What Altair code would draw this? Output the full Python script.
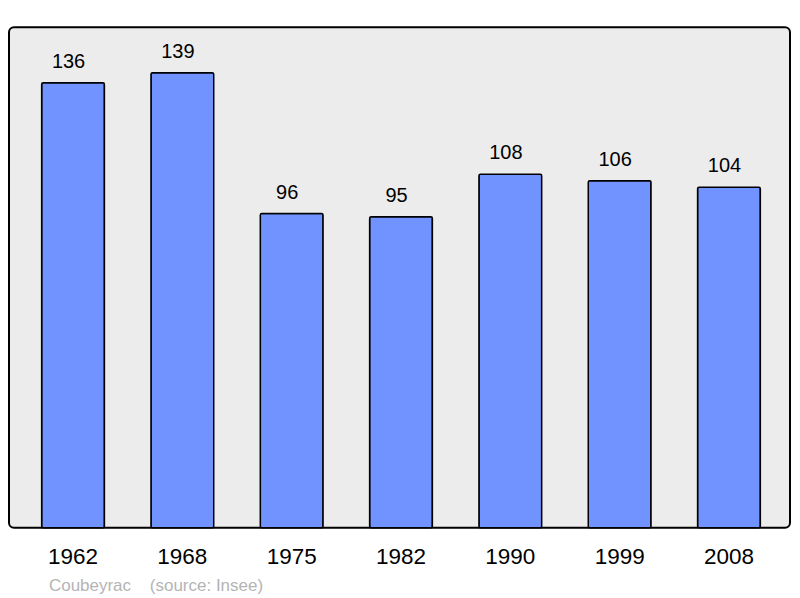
import altair as alt
import pandas as pd

years = ["1962", "1968", "1975", "1982", "1990", "1999", "2008"]
population = [136, 139, 96, 95, 108, 106, 104]
footer = ["Coubeyrac\u00a0\u00a0\u00a0\u00a0(source: Insee)"]

df = pd.DataFrame({"year": years, "pop": population})
FONT = "Liberation Sans"

x = alt.X("year:N", sort=years, title=None,
          scale=alt.Scale(paddingInner=0.426, paddingOuter=0.286, range=[1.4, 783.6]),
          axis=alt.Axis(labelAngle=0, labelFontSize=22.5, labelFont=FONT,
                        labelColor="black", ticks=False, tickSize=0, domain=False,
                        labelBaseline="alphabetic", labelPadding=35.5, grid=False))
y = alt.Y("pop:Q", title=None, scale=alt.Scale(domain=[0, 152.9], nice=False, zero=True),
          axis=None)

bars = alt.Chart(df).mark_bar(color="#7093ff", stroke="black", strokeWidth=1.5,
                              cornerRadius=1.5).encode(x=x, y=y)
labels = alt.Chart(df).mark_text(font=FONT, fontSize=20, color="black", dx=-4.5, dy=-15,
                                 baseline="alphabetic", align="center").encode(
    x=alt.X("year:N", sort=years), y="pop:Q", text="pop:Q")
foot = alt.Chart(pd.DataFrame({"t": footer})).mark_text(
    font=FONT, fontSize=17, color="#b4b4b4", align="left", baseline="alphabetic").encode(
    x=alt.value(40), y=alt.value(564), text="t:N")

chart = alt.layer(bars, labels, foot).properties(
    width=782, height=501,
    padding={"left": 1, "top": 19, "right": 1, "bottom": 0},
    view=alt.ViewBackground(fill="#ececec", stroke="black", strokeWidth=2, cornerRadius=5),
).configure(background="white")

chart.save("out.html", embed_options={"renderer": "svg", "actions": False})
